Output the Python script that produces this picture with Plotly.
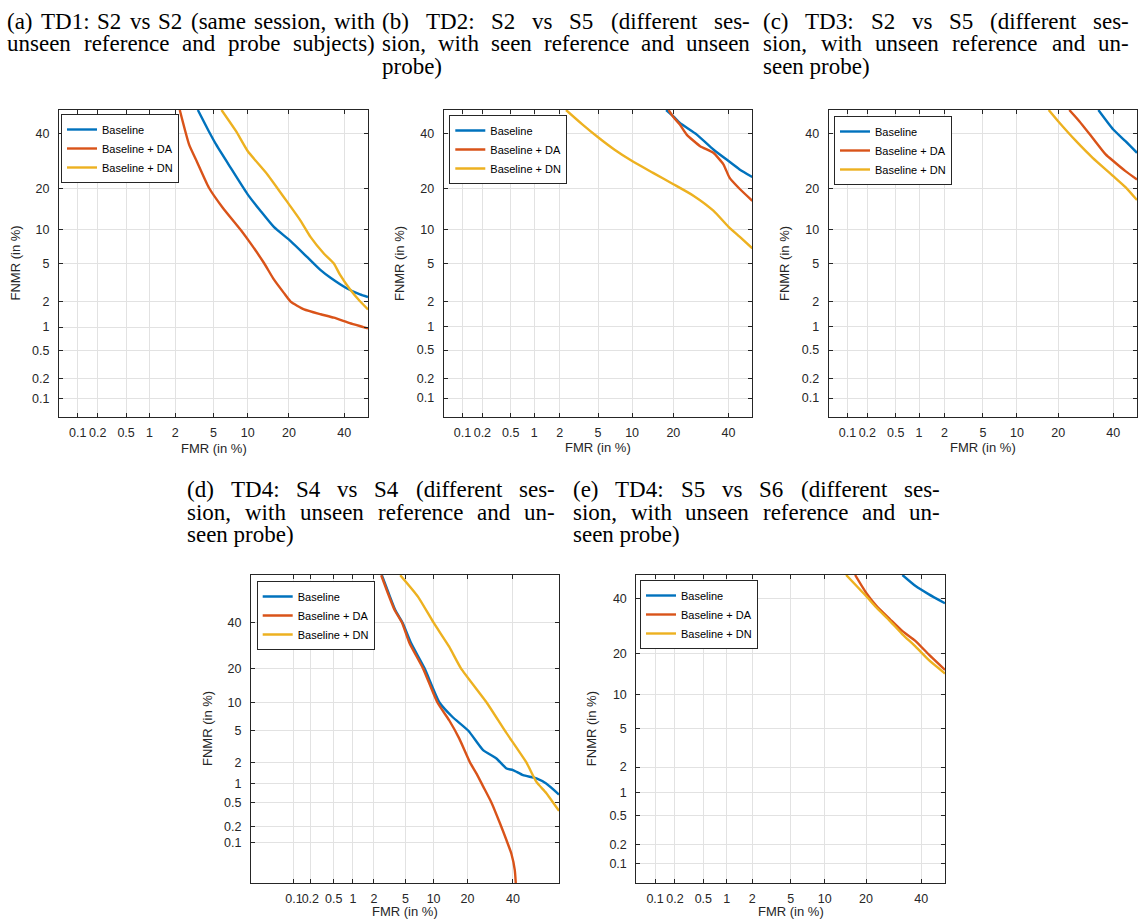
from statistics import NormalDist
import plotly.graph_objects as go

# ---------------- data (values in %) ----------------
TICK_VALUES = [0.1, 0.2, 0.5, 1, 2, 5, 10, 20, 40]
TICK_LABELS = ["0.1", "0.2", "0.5", "1", "2", "5", "10", "20", "40"]
SERIES_NAMES = ["Baseline", "Baseline + DA", "Baseline + DN"]

# (a) TD1
A_BASE_FMR = [3.5, 4.5, 5.3, 7, 10, 12.6, 15.8, 20.5, 26, 30.7, 34.5, 41, 46.6, 50]
A_BASE_FNMR = [50, 41, 35.5, 27.5, 18.3, 14, 10.5, 8.0, 5.7, 4.3, 3.6, 2.8, 2.4, 2.25]
A_DA_FMR = [2.25, 2.84, 3.4, 4.5, 6.07, 9, 10.6, 13.4, 15.8, 18.5, 20.5, 24.8, 30.7, 35.8, 42.3, 48, 50]
A_DA_FNMR = [50, 35.5, 29.2, 20.3, 14.8, 9.6, 7.6, 5.05, 3.47, 2.5, 2.0, 1.63, 1.43, 1.3, 1.12, 1.0, 0.96]
A_DN_FMR = [5.94, 8, 10, 14.2, 20, 23.6, 27, 31.9, 35.8, 38.2, 42.3, 46.6, 50]
A_DN_FNMR = [50, 41, 33, 24.5, 15.6, 11.8, 8.7, 6.2, 5.0, 3.9, 2.75, 2.02, 1.63]

# (b) TD2
B_BASE_FMR = [17.9, 20, 22, 27.7, 33.9, 40, 44.6, 50]
B_BASE_FNMR = [50, 47.3, 44.5, 39.6, 33.6, 29.2, 26.2, 23.6]
B_DA_FMR = [18.6, 20, 22, 24.2, 28.9, 33.9, 37.9, 40.4, 44.6, 50]
B_DA_FNMR = [50, 47, 43.8, 39.6, 34.9, 32.3, 28, 23.4, 19.9, 16.5]
B_DN_FMR = [2.35, 3.47, 5, 7.1, 10, 14.5, 20, 26.5, 33.9, 40, 44.6, 50]
B_DN_FNMR = [50, 44, 38.5, 33.5, 29.2, 25, 21.3, 17.9, 14, 10.5, 8.7, 6.9]

# (c) TD3
C_BASE_FMR = [34, 40, 45.1, 50]
C_BASE_FNMR = [50, 41.7, 36.9, 32.3]
C_DA_FMR = [23.5, 26.9, 31.8, 36.9, 40, 45.1, 50]
C_DA_FNMR = [50, 45.2, 38.2, 31.7, 29.2, 25.6, 22.8]
C_DN_FMR = [17.3, 20, 25.8, 31.8, 40, 45.1, 50]
C_DN_FNMR = [50, 45.2, 36.9, 30.4, 23.9, 20.4, 16.7]

# (d) TD4 S4 vs S4
D_BASE_FMR = [2.55, 3.12, 3.77, 4.62, 5.8, 8.1, 11.4, 15, 20.3, 26.1, 32, 36.8, 40, 45.1, 52, 57, 63.4]
D_BASE_FNMR = [64, 55, 46.4, 40, 30.2, 20, 10, 7.1, 5, 2.91, 2.26, 1.65, 1.57, 1.33, 1.19, 1.0, 0.68]
D_DA_FMR = [2.5, 3.05, 3.7, 4.55, 5.56, 7.8, 10.9, 14, 17.1, 20.9, 23.4, 26.1, 29.7, 33.6, 36.8, 39.2, 40.9, 41.4]
D_DA_FNMR = [64, 55, 46.4, 40, 30.2, 20, 10, 6.55, 4.06, 2.0, 1.4, 0.91, 0.51, 0.23, 0.112, 0.062, 0.029, 0.0153]
D_DN_FMR = [4.33, 6.88, 10, 14, 17.7, 27.6, 36, 46.8, 52, 57, 63.4]
D_DN_FNMR = [64, 53.3, 40, 28.7, 20, 10, 5, 2, 1.06, 0.72, 0.37]

# (e) TD4 S5 vs S6
E_BASE_FMR = [32.5, 37.7, 43.2, 50]
E_BASE_FNMR = [50, 45.3, 41.8, 38.1]
E_DA_FMR = [16.9, 20, 23.3, 27.9, 32.5, 37.7, 43.2, 50]
E_DA_FNMR = [50, 42.5, 37, 31.8, 27.4, 24, 19.7, 15.5]
E_DN_FMR = [14.6, 20, 23.3, 27.9, 32.5, 37.7, 43.2, 50]
E_DN_FNMR = [50, 41.1, 36.3, 31.1, 26.3, 22.2, 18.1, 14.6]

TITLE_A = ["(a) TD1: S2 vs S2 (same session, with", "unseen reference and probe subjects)"]
TITLE_B = ["(b) TD2: S2 vs S5 (different ses-", "sion, with seen reference and unseen", "probe)"]
TITLE_C = ["(c) TD3: S2 vs S5 (different ses-", "sion, with unseen reference and un-", "seen probe)"]
TITLE_D = ["(d) TD4: S4 vs S4 (different ses-", "sion, with unseen reference and un-", "seen probe)"]
TITLE_E = ["(e) TD4: S5 vs S6 (different ses-", "sion, with unseen reference and un-", "seen probe)"]

# ---------------- layout constants ----------------
W, H = 1141, 920
COLORS = ["#0072BD", "#D95319", "#EDB120"]
AX_COLOR = "#262626"
GRID_COLOR = "#e2e2e2"
SANS = "Liberation Sans, Arial, sans-serif"
SERIF = "Liberation Serif, Times New Roman, serif"
TITLE_FS = 23

ND = NormalDist()


def probit(pct):
    return ND.inv_cdf(pct / 100.0)


STD_RANGE = [0.05, 50]
D_X_RANGE = [0.0133, 63.4]
D_Y_RANGE = [0.0155, 64.1]

PANELS = [
    dict(series=[(A_BASE_FMR, A_BASE_FNMR), (A_DA_FMR, A_DA_FNMR), (A_DN_FMR, A_DN_FNMR)],
         box=(59, 110, 368, 417), xr=STD_RANGE, yr=STD_RANGE,
         title=TITLE_A, cols=(7, 375), base=(29.3, 51.7, 74), justify_last=True, leg=(61, 114)),
    dict(series=[(B_BASE_FMR, B_BASE_FNMR), (B_DA_FMR, B_DA_FNMR), (B_DN_FMR, B_DN_FNMR)],
         box=(443.7, 110, 752.3, 416.7), xr=STD_RANGE, yr=STD_RANGE,
         title=TITLE_B, cols=(382, 750), base=(29.3, 51.7, 74), justify_last=False, leg=(449.3, 115)),
    dict(series=[(C_BASE_FMR, C_BASE_FNMR), (C_DA_FMR, C_DA_FNMR), (C_DN_FMR, C_DN_FNMR)],
         box=(828.7, 110, 1137, 416.7), xr=STD_RANGE, yr=STD_RANGE,
         title=TITLE_C, cols=(763, 1129), base=(29.3, 51.7, 74), justify_last=False, leg=(834, 116)),
    dict(series=[(D_BASE_FMR, D_BASE_FNMR), (D_DA_FMR, D_DA_FNMR), (D_DN_FMR, D_DN_FNMR)],
         box=(251, 575, 559, 883), xr=D_X_RANGE, yr=D_Y_RANGE,
         title=TITLE_D, cols=(187, 555), base=(497.5, 520, 542.7), justify_last=False, leg=(256.7, 581)),
    dict(series=[(E_BASE_FMR, E_BASE_FNMR), (E_DA_FMR, E_DA_FNMR), (E_DN_FMR, E_DN_FNMR)],
         box=(636.3, 575, 945, 882.7), xr=STD_RANGE, yr=STD_RANGE,
         title=TITLE_E, cols=(573, 940), base=(497.5, 520, 542.7), justify_last=False, leg=(640, 580)),
]

# Times advance widths (per 1000 em) for justification
TIMES_W = {' ': 250, '(': 333, ')': 333, ':': 278, ',': 250, '-': 333, '.': 250,
           'A': 722, 'D': 722, 'N': 722, 'S': 556, 'T': 611,
           'a': 444, 'b': 500, 'c': 444, 'd': 500, 'e': 444, 'f': 333, 'g': 500, 'h': 500,
           'i': 278, 'j': 278, 'k': 500, 'l': 278, 'm': 778, 'n': 500, 'o': 500, 'p': 500,
           'q': 500, 'r': 333, 's': 389, 't': 278, 'u': 500, 'v': 500, 'w': 722, 'x': 500,
           'y': 500, 'z': 444}


def word_width(w):
    return sum(TIMES_W.get(ch, 500) for ch in w) * TITLE_FS / 1000.0


fig = go.Figure()
annotations = []


def px_x(px):
    return px / W


def px_y(py):
    return 1 - py / H


def text_ann(text, x, y, xanchor="left", size=TITLE_FS, family=SERIF, color="black", angle=0):
    annotations.append(dict(text=text, x=x, y=y, xref="paper", yref="paper", xanchor=xanchor,
                            yanchor="middle", showarrow=False, borderpad=0, borderwidth=0,
                            textangle=angle, font=dict(family=family, size=size, color=color)))


for i, p in enumerate(PANELS):
    n = "" if i == 0 else str(i + 1)
    l, t, r, b = p["box"]
    xname, yname = "xaxis" + n, "yaxis" + n
    legname = "legend" + n
    for k, (fmr, fnmr) in enumerate(p["series"]):
        fig.add_trace(go.Scatter(
            x=[probit(v) for v in fmr], y=[probit(v) for v in fnmr],
            mode="lines", name=SERIES_NAMES[k],
            line=dict(color=COLORS[k], width=2.4, shape="spline", smoothing=0.5),
            xaxis="x" + n, yaxis="y" + n, legend=legname, showlegend=True,
            hovertemplate="FMR %{customdata[0]}%<br>FNMR %{customdata[1]}%<extra></extra>",
            customdata=list(zip(fmr, fnmr)),
        ))
    common = dict(showgrid=True, gridcolor=GRID_COLOR, gridwidth=1, zeroline=False,
                  showline=True, linecolor=AX_COLOR, linewidth=1, mirror="allticks",
                  ticks="inside", ticklen=4, tickwidth=1, tickcolor=AX_COLOR,
                  tickfont=dict(family=SANS, size=12.5, color=AX_COLOR),
                  tickmode="array", tickvals=[probit(v) for v in TICK_VALUES],
                  ticktext=TICK_LABELS, tickangle=0, fixedrange=True)
    fig.layout[xname] = dict(common, domain=[px_x(l), px_x(r)], anchor="y" + n,
                             range=[probit(p["xr"][0]), probit(p["xr"][1])], ticklabelstandoff=4)
    fig.layout[yname] = dict(common, domain=[px_y(b), px_y(t)], anchor="x" + n,
                             range=[probit(p["yr"][0]), probit(p["yr"][1])], ticklabelstandoff=6)
    fig.layout[legname] = dict(x=px_x(p["leg"][0]), y=px_y(p["leg"][1]), xanchor="left", yanchor="top",
                               bgcolor="white", bordercolor=AX_COLOR, borderwidth=1,
                               font=dict(family=SANS, size=11, color="black"),
                               tracegroupgap=0)
    # axis titles
    text_ann("FMR (in %)", px_x((l + r) / 2), px_y(min(b + 31, 911)), xanchor="center", size=13,
             family=SANS, color=AX_COLOR)
    text_ann("FNMR (in %)", px_x(l - 44), px_y((t + b) / 2), xanchor="center", size=13,
             family=SANS, color=AX_COLOR, angle=-90)
    # caption, justified like the paper
    c0, c1 = p["cols"]
    lines = p["title"]
    for j, line in enumerate(lines):
        yc = px_y(p["base"][j] - 0.3375 * TITLE_FS)
        last = j == len(lines) - 1
        if last and not p["justify_last"]:
            text_ann(line, px_x(c0), yc)
            continue
        words = line.split()
        widths = [word_width(w) for w in words]
        gap = (c1 - c0 - sum(widths)) / (len(words) - 1)
        xx = c0
        for w, ww in zip(words[:-1], widths[:-1]):
            text_ann(w, px_x(xx), yc)
            xx += ww + gap
        text_ann(words[-1], px_x(c1), yc, xanchor="right")

fig.update_layout(width=W, height=H, margin=dict(l=0, r=0, t=0, b=0),
                  paper_bgcolor="white", plot_bgcolor="white",
                  annotations=annotations, showlegend=True)

fig.write_html("out.html", config={"displayModeBar": False},
               post_script="document.body.style.margin='0px';")
